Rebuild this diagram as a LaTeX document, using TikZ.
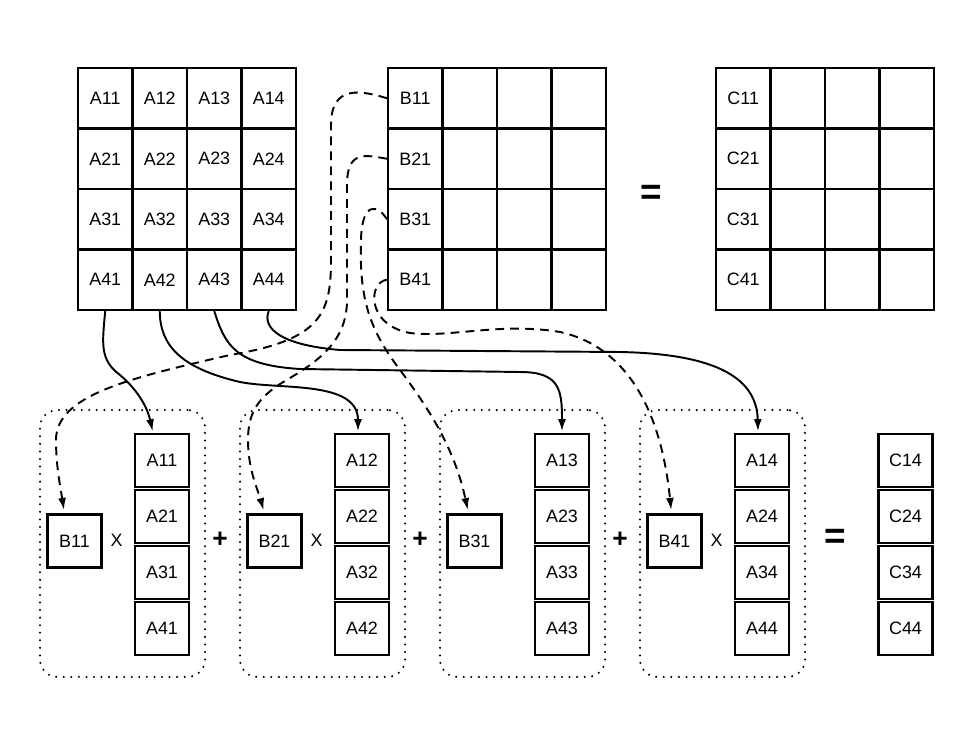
\documentclass[tikz,border=0pt]{standalone}
\usepackage{fontspec}
\setmainfont{Liberation Sans}
\usetikzlibrary{arrows.meta}
\def\cellw{54.5}
\def\cellh{60.5}
\def\groupsep{200}

\begin{document}
\begin{tikzpicture}[x=0.02cm,y=-0.02cm,font=\fontsize{10.2}{12}\selectfont]
  \tikzstyle{cell}=[draw,line width=1.2pt,minimum width=1.09cm,minimum height=1.21cm,inner sep=0pt]
  \tikzstyle{box}=[draw,line width=1.2pt,minimum width=1.08cm,minimum height=1.06cm,inner sep=0pt]
  \tikzstyle{group}=[draw,line width=1.3pt,dash pattern=on 0pt off 4.3pt,line cap=round,rounded corners=0.35cm,minimum width=3.3cm,minimum height=5.34cm]
  \tikzstyle{op}=[font=\fontsize{15}{15}\selectfont\bfseries]
  \tikzstyle{eq}=[font=\fontsize{21}{21}\selectfont\bfseries]
  \tikzstyle{feed}=[->,>={Latex[length=2.4mm,width=1.6mm]},line width=1.1pt,shorten >=1pt]
  \tikzstyle{pick}=[feed,dash pattern=on 5pt off 3.5pt,shorten >=2pt]

  \useasboundingbox (0,0) rectangle (964,729);

  % the three matrices
  \foreach \r in {1,...,4}
    \foreach \c in {1,...,4} {
      \node[cell] (A-\r\c) at ({78+(\c-0.5)*\cellw},{68+(\r-0.5)*\cellh}) {A\r\c};
      \node[cell] (B-\r\c) at ({388+(\c-0.5)*\cellw},{68+(\r-0.5)*\cellh}) {\ifnum\c=1 B\r1\fi};
      \node[cell] (C-\r\c) at ({716+(\c-0.5)*\cellw},{68+(\r-0.5)*\cellh}) {\ifnum\c=1 C\r1\fi};
    }
  \node[eq] (eq-top) at (651,195) {=};

  % one group per column of A
  \foreach \g in {1,...,4} {
    \node[group] (grp-\g) at ({122.5+(\g-1)*\groupsep},543.5) {};
    \node[box] (bx-\g) at ({74.5+(\g-1)*\groupsep},541) {B\g1};
    \foreach \r in {1,...,4}
      \node[box] (col-\g-\r) at ({162+(\g-1)*\groupsep},{460.5+(\r-1)*56}) {A\r\g};
  }
  \foreach \g in {1,2,4}
    \node (times-\g) at ({116.5+(\g-1)*\groupsep},540) {X};
  \foreach \g in {1,2,3}
    \node[op] (plus-\g) at ({220+(\g-1)*\groupsep},540) {+};
  \node[eq] (eq-bot) at (835,539) {=};
  \foreach \r in {1,...,4}
    \node[box] (res-\r) at (905.5,{460.5+(\r-1)*56}) {C\r4};

  % columns of A
  \draw[feed] (A-41.south) .. controls (102,345) and (100,360) .. (120,375)
    .. controls (140,392) and (148,410) .. ([xshift=-0.18cm]col-1-1.north);
  \draw[feed] (A-42.south) .. controls (160,345) and (180,368) .. (240,382)
    .. controls (280,390) and (358,380) .. ([xshift=-0.08cm]col-2-1.north);
  \draw[feed] (A-43.south) .. controls (225,345) and (235,365) .. (300,369)
    -- (520,372) .. controls (560,372) and (562,390) .. (col-3-1.north);
  \draw[feed] (A-44.south) .. controls (262,328) and (280,345) .. (340,350)
    -- (620,352) .. controls (720,354) and (757,380) .. ([xshift=-0.08cm]col-4-1.north);

  % first column of B
  \draw[pick] (B-11.west) .. controls (360,90) and (331,85) .. (331,125) -- (331,260)
    .. controls (331,315) and (320,340) .. (230,355)
    .. controls (130,378) and (56,395) .. (56,440)
    .. controls (56,465) and (60,485) .. ([xshift=-0.2cm]bx-1.north);
  \draw[pick] (B-21.west) .. controls (365,155) and (347,150) .. (347,185) -- (347,300)
    .. controls (347,340) and (320,360) .. (290,378)
    .. controls (260,395) and (248,410) .. (248,440)
    .. controls (248,470) and (258,490) .. ([xshift=-0.2cm]bx-2.north);
  \draw[pick] (B-31.west) .. controls (378,205) and (362,200) .. (361,240)
    .. controls (359,300) and (370,330) .. (400,370)
    .. controls (430,410) and (455,450) .. ([xshift=-0.12cm]bx-3.north);
  \draw[pick] (B-41.west) .. controls (368,282) and (366,325) .. (410,333)
    .. controls (450,338) and (500,322) .. (560,332)
    .. controls (620,345) and (660,400) .. ([xshift=-0.06cm]bx-4.north);
\end{tikzpicture}
\end{document}
